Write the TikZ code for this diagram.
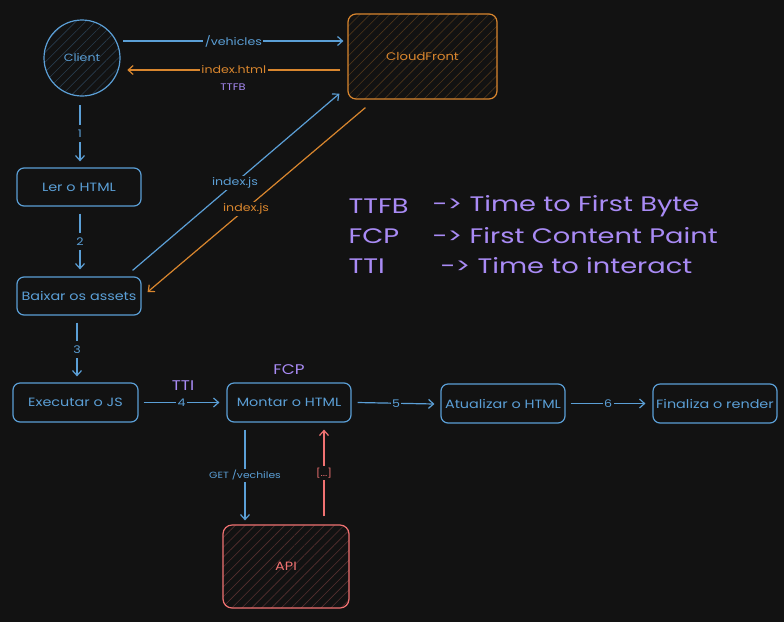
\documentclass[tikz,border=0pt]{standalone}
\usepackage{fontspec}
\setmainfont{Poppins}[FakeStretch=1.2]
\newfontfamily\legendfont{Poppins}[FakeStretch=1.3]
\usetikzlibrary{arrows.meta,patterns.meta,calc}
\definecolor{bg}{HTML}{121212}
\definecolor{cblue}{HTML}{5B9FD6}
\definecolor{corange}{HTML}{D9862E}
\definecolor{cred}{HTML}{F07272}
\definecolor{cpurple}{HTML}{A98BF5}
\begin{document}
\begin{tikzpicture}[x=1pt,y=-1pt,line width=1.2pt,
  box/.style={draw=cblue,text=cblue,rounded corners=7pt,minimum width=124pt,minimum height=38pt,inner sep=0pt,font=\fontsize{12}{14}\selectfont},
  hatch/.style={pattern={Lines[angle=45,distance=7pt,line width=0.6pt]},pattern color=#1},
  arr/.style={-{Straight Barb[length=5pt,width=9pt,line width=1.2pt]}},
  lab/.style={fill=bg,inner xsep=1.5pt,inner ysep=1.5pt,font=\fontsize{10.5}{12}\selectfont},
  num/.style={fill=bg,inner xsep=2pt,inner ysep=5pt,font=\fontsize{10.5}{12}\selectfont},
  slab/.style={fill=bg,inner sep=1.5pt,font=\fontsize{9}{11}\selectfont},
  legend/.style={text=cpurple,anchor=west,inner sep=0pt,font=\legendfont\fontsize{21}{24}\selectfont}]
\fill[bg] (0,0) rectangle (784,622);
\useasboundingbox (0,0) rectangle (784,622);

% shapes
\node[circle,draw=cblue,text=cblue,minimum size=76pt,inner sep=0pt,hatch=cblue!30!bg,font=\fontsize{10.5}{12}\selectfont] (client) at (82,58) {Client};
\node[draw=corange,text=corange,rounded corners=8pt,minimum width=149pt,minimum height=85pt,inner sep=0pt,hatch=corange!30!bg,font=\fontsize{11}{13}\selectfont] (cf) at (422.5,56.5) {CloudFront};
\node[box] (ler) at (79,187) {Ler o HTML};
\node[box] (baixar) at (79,296) {Baixar os assets};
\node[box,minimum width=125pt,minimum height=39pt] (exec) at (75.5,402.5) {Executar o JS};
\node[box,minimum height=39pt] (montar) at (289,402.5) {Montar o HTML};
\node[box,minimum height=39pt] (atual) at (503,403.5) {Atualizar o HTML};
\node[box,minimum height=39pt] (final) at (715,403.5) {Finaliza o render};
\node[draw=cred,text=cred,rounded corners=9pt,minimum width=126pt,minimum height=83pt,inner sep=0pt,hatch=cred!30!bg,font=\fontsize{12}{14}\selectfont] (api) at (286,566.5) {API};

% top connectors
\draw[arr,cblue] ([xshift=3pt,yshift=17pt]client.east) -- node[lab,text=cblue,pos=0.5]{/vehicles} ([xshift=-4pt,yshift=15.5pt]cf.west);
\draw[arr,corange] ([xshift=-7pt,yshift=-13.5pt]cf.west) -- node[lab,text=corange,pos=0.5] (ih) {index.html} ([xshift=7pt,yshift=-12pt]client.east);
\node[text=cpurple,inner sep=0pt,font=\fontsize{9.5}{11}\selectfont] (ttfb) at (233,87) {TTFB};

\draw[arr,cblue] ([xshift=-2pt,yshift=-9pt]client.south) -- node[num,text=cblue]{1} ([xshift=1pt,yshift=6pt]ler.north);
\draw[arr,cblue] ([xshift=1pt,yshift=-7pt]ler.south) -- node[num,text=cblue]{2} ([xshift=1pt,yshift=7pt]baixar.north);

\draw[arr,cblue] ([xshift=-9pt,yshift=6pt]baixar.north east) -- node[lab,text=cblue,pos=0.495]{index.js} ([xshift=-8pt,yshift=6pt]cf.south west);
\draw[arr,corange] ([xshift=18pt,yshift=-8pt]cf.south west) -- node[lab,text=corange,pos=0.548]{index.js} ([xshift=6pt,yshift=4pt]baixar.east);

% legend
\node[legend] (l1a) at (348,206) {TTFB};
\node[legend] (l1b) at (432,206) {-> Time to First Byte};
\node[legend] (l2a) at (348,236) {FCP};
\node[legend] (l2b) at (432,236) {-> First Content Paint};
\node[legend] (l3a) at (348,266) {TTI};
\node[legend] (l3b) at (440,266) {-> Time to interact};

% bottom flow
\draw[arr,cblue] ([xshift=-2pt,yshift=-7pt]baixar.south) -- node[num,text=cblue]{3} ([xshift=1.5pt,yshift=6pt]exec.north);
\draw[arr,cblue] ([xshift=5pt]exec.east) -- node[lab,text=cblue]{4} ([xshift=-7pt]montar.west);
\draw[arr,cblue] ([xshift=6pt]montar.east) -- node[lab,text=cblue]{5} ([xshift=-6pt,yshift=-0.5pt]atual.west);
\draw[arr,cblue] ([xshift=5pt]atual.east) -- node[lab,text=cblue]{6} ([xshift=-7pt]final.west);
\node[text=cpurple,font=\fontsize{14}{16}\selectfont,inner sep=0pt] (tti) at (183,386) {TTI};
\node[text=cpurple,font=\fontsize{14}{16}\selectfont,inner sep=0pt] (fcp) at (289,370) {FCP};

\draw[arr,cblue] ([xshift=-44pt,yshift=-7pt]montar.south) -- node[slab,text=cblue]{GET /vechiles} ([xshift=-41pt,yshift=4pt]api.north);
\draw[arr,cred] ([xshift=38pt,yshift=8pt]api.north) -- node[slab,text=cred]{[...]} ([xshift=35pt,yshift=-7pt]montar.south);
\end{tikzpicture}
\end{document}
